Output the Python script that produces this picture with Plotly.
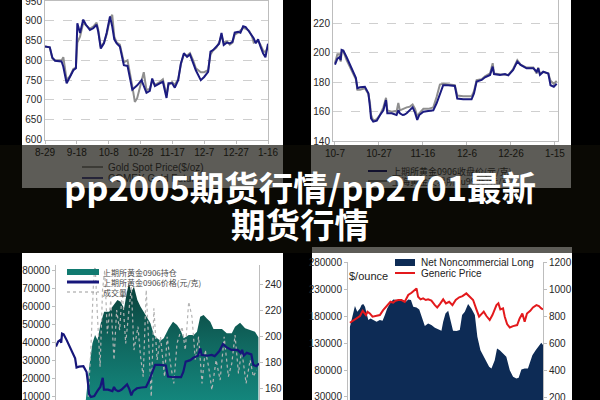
import plotly.graph_objects as go

# ---------------- data ----------------
# Top-left: gold spot (navy) vs comparison (gray), days since 8-29
tl_days = [0,3,4.6,6.3,10.4,11.5,13.6,15.7,17.8,19.4,20.3,22,24,25.7,28.2,30.3,32.4,33.4,35,37,38.7,40.8,42.2,43.5,45,47,49.5,51.8,53.3,54.8,57.9,60.6,63.7,65.8,67.3,69,72,74,76.3,77.5,79.8,81.5,83.6,85.3,87.2,89.2,91,93,94.7,97.8,99.9,102.4,103.9,105.5,107.6,109.3,110.8,112.2,114.3,116,117.7,119.1,121.2,122.7,124.4,126,128.1,130,131,132.3,133.8,135.2,136.9,138.4,140]
tl_navy = [835,833,807,799,797,784,742,758,775,780,894,869,903,890,877,881,890,873,830,843,869,911,886,853,843,835,788,786,758,726,737,750,718,723,754,735,742,746,705,742,742,731,750,792,818,809,815,792,775,750,758,771,822,826,835,842,869,839,845,843,847,870,872,870,886,884,873,862,856,843,853,836,818,808,842]
tl_gray_days = [0,3,4.6,6.3,10.4,11.5,13.6,15.7,17.8,19.4,20.3,22,24,25.7,28.2,30.3,32.4,33.4,35,37,38.7,40.8,42.2,43.5,45,47,49.5,51.8,53.3,54.8,56.4,57.9,60.6,62,63.7,65.8,67.3,69,72,74,76.3,77.5,79.8,81.5,83.6,85.3,87.2,89.2,91,93,94.7,97.8,99.9,102.4,103.9,105.5,107.6,109.3,110.8,112.2,114.3,116,117.7,119.1,121.2,122.7,124.4,126,128.1,130,131,132.3,133.8,135.2,136.9,138.4,140]
tl_gray = [835,833,805,800,800,808,750,760,778,782,845,860,895,888,880,885,895,878,835,845,865,905,915,860,845,840,795,800,770,735,695,705,748,770,725,728,748,738,745,752,712,738,745,738,752,790,815,812,818,800,780,770,770,775,815,825,832,845,862,845,848,840,845,865,870,875,882,880,875,860,845,848,848,840,825,820,835]
tl_tick_days = [0,20,40,60,80,100,120,140]
tl_tick_labels = ['8-29','9-18','10-8','10-28','11-17','12-7','12-27','1-16']
tl_y_ticks = [600,650,700,750,800,850,900,950]

# Top-right: SHFE gold 0906 (navy) vs spot (gray), days since 10-7
tr_days = [0,1.1,2,2.6,3.0,3.8,5.3,6.8,8.3,9.5,10.2,11.4,13.6,15.2,15.9,16.4,17.4,19,20.5,22,23.2,23.8,25.8,27.3,28,28.8,29.5,30.8,31.4,32.6,34.1,35.3,36.4,37.4,38.3,40.2,42.4,44.7,46.2,47.7,49.2,51.5,54.5,55.6,58.3,62.1,63.2,64.4,66.7,68.2,70.5,71.7,72.3,75,77.3,78.8,81,82.9,84.4,87.1,90.2,91.7,92.4,93.2,94.7,97,98,99.5,100.8]
tr_navy = [192,196,197,195,202,201.5,197,192,187,183,176,176.6,177,172.5,163.5,155.6,153.3,154,157.8,161,168,159,159,158.5,157.8,161,159,157.8,158,159,161,163,159.4,154.5,157.8,160,160.6,161,165.8,171.4,178,178,177.5,169,168.5,168.5,172.5,180.5,181.6,183.4,185,190.6,185.6,185,185.6,184.7,188.4,194,191.8,189.5,189.5,187.2,189.5,185,187.2,186,178,177,179]
tr_gray = [193,199,199,194,200,201,195,190,186,182,175,175,176,172,166,158,154,155,158,163,169.5,161,160,160.5,160,166,161,162,162,163,163.5,165,162,157,159,162,162,163,170,178.5,179,178.5,178,171,170.5,170.5,174,181.5,182,184,186,193,186,185.5,185.5,185,189,195,192,190,190,186,190,186,187,186,181,179,181]
tr_tick_days = [0,20,40,60,80,100]
tr_tick_labels = ['10-7','10-27','11-16','12-6','12-26','1-15']
tr_y_ticks = [140,160,180,200,220]

# Bottom-left: open interest (area), volume (dotted), price (navy, = tr_navy)
bl_oi_days = [14.8,16.5,18.1,19.4,20.6,22.2,23.9,26.4,28,30.5,32.1,33.8,35.1,36.2,37.4,38.7,40.4,42,44.5,46.9,48.6,50.2,51.9,53.5,56,58.1,60.1,61.8,63.4,65.9,68.4,70,71.6,73.3,74.9,76.6,78.2,82.4,84.8,87.3,88.9,91.4,93.9,96.3,98.8,100.5]
bl_oi = [8160,26700,39660,44270,41500,50780,57220,57220,60000,63700,62770,59070,67440,73000,68370,71150,63700,60000,55370,50780,44270,42420,41120,42420,48000,51700,49850,47070,42420,44270,44270,46130,54450,55370,53520,51670,47600,47600,45200,45200,48900,51100,48000,47070,46130,43000]
bl_vol_days = [16.0,17.3,18.6,19.4,20.6,21.9,23.1,24.2,25.5,27.2,28.8,30.1,31.6,32.9,34.6,36.2,37.4,38.7,40.7,42.0,43.3,44.8,46.1,47.3,48.6,50.2,51.9,53.9,55.2,56.8,58.5,60.1,62.6,64.2,65.9,67.5,69.2,70.8,72.5,74.1,75.8,77.4,79.5,81.5,83.5,85.6,87.3,88.9,90.6,92.2,94.4,96.4,98.0,99.6]
bl_vol = [10010,35940,72980,84090,54460,26680,69280,80390,45200,63720,30390,58160,47050,69280,39650,60020,71130,35940,48900,32240,21120,69280,39650,10010,59090,30390,43350,21120,43350,28530,17420,39650,48900,35940,62790,54460,30390,43350,17420,35940,26680,13720,30390,19270,43350,21120,28530,44270,22980,35940,17420,30390,21120,24830]
bl_left_ticks = [10000,20000,30000,40000,50000,60000,70000,80000]
bl_right_ticks = [160,180,200,220,240]
bl_legend = ['上期所黄金0906持仓', '上期所黄金0906价格(元/克)', '成交量']

# Bottom-right: net noncommercial long (area) and generic price (red)
br_long_idx = [0,1.4,2.6,3.8,5.2,6.0,6.9,7.8,8.6,9.5,10.7,12.1,13.8,15.5,16.9,18.1,19.3,20.7,22.4,24.5,25.9,27.6,29.0,30.2,31.6,32.8,34.5,35.9,37.1,38.8,40.5,42.2,44.0,45.7,47.4,48.3,49.5,50.9,52.1,53.4,55.2,56.9,58.1,59.5,61.2,62.9,64.7,66.0,67.6,69.3,70.7,72.1,73.3,75.0,76.2,77.6,79.3,81.0,82.8,84.5,86.2,87.4,88.8,90.5,92.2,93.1,94.5,96.2,97.9,99.1,100]
br_long = [160360,178940,198780,188240,194440,200630,202490,197530,185150,172750,175850,172750,169650,172750,171510,182050,194440,203730,211170,209930,208070,209930,206830,211170,209930,197530,196300,192580,178940,161600,166560,163460,158500,155410,152920,169650,185150,190100,172750,152920,152310,154170,182050,188240,202490,194440,182050,141770,116990,104600,95300,86010,82920,98410,120090,116990,110800,104600,79820,67420,64330,65560,81060,82920,82920,92210,107700,116990,126290,130620,126290]
br_price_idx = [0,1.7,3.4,5.2,6.6,7.4,8.3,9.1,10.3,11.7,13.4,15.5,17.2,18.6,20.0,21.0,22.4,23.6,25.0,26.7,28.4,30.2,31.9,33.6,34.5,35.3,36.6,37.9,39.3,40.5,42.2,44.0,45.2,46.6,48.3,49.7,51.4,53.1,54.8,56.6,58.3,60.3,62.1,63.8,65.5,66.9,68.1,69.3,70.7,72.4,73.8,75.9,76.9,77.9,79.3,80.2,81.4,82.8,84.5,86.6,87.9,89.3,90.5,91.7,93.4,94.8,96.6,97.9,99.1,100]
br_price = [751,766,783,801,840,825,808,833,820,796,801,808,845,870,895,907,900,915,920,920,907,957,974,999,1006,944,925,932,920,925,915,882,865,890,925,895,907,882,920,940,949,969,940,920,850,796,815,833,801,771,808,882,895,850,858,796,741,716,726,734,783,820,758,820,840,865,882,875,858,850]
br_left_ticks = [30000,80000,130000,180000,230000,280000]
br_right_ticks = [200,400,600,800,1000,1200]
br_legend = ['Net Noncommercial Long', 'Generic Price']

title_lines = ['pp2005期货行情/pp2701最新', '期货行情']

# ---------------- helpers (pixel -> paper) ----------------
W, H = 600, 400
def px(x):
    return x / W
def py(y):
    return 1 - y / H

NAVY = '#1b1b80'
GRAY = '#8f8f8f'
TICKFONT = dict(family='Liberation Sans, Arial', size=10, color='#262626')
AXLINE = '#bdbdbd'

fig = go.Figure()

# top-left
fig.add_trace(go.Scatter(x=tl_gray_days, y=tl_gray, mode='lines', line=dict(color=GRAY, width=2),
                         xaxis='x', yaxis='y', showlegend=False, hoverinfo='skip'))
fig.add_trace(go.Scatter(x=tl_days, y=tl_navy, mode='lines', line=dict(color=NAVY, width=2),
                         xaxis='x', yaxis='y', showlegend=False, hoverinfo='skip'))
# top-right
fig.add_trace(go.Scatter(x=tr_days, y=tr_gray, mode='lines', line=dict(color=GRAY, width=2),
                         xaxis='x2', yaxis='y2', showlegend=False, hoverinfo='skip'))
fig.add_trace(go.Scatter(x=tr_days, y=tr_navy, mode='lines', line=dict(color=NAVY, width=2),
                         xaxis='x2', yaxis='y2', showlegend=False, hoverinfo='skip'))
# bottom-left
fig.add_trace(go.Scatter(x=bl_oi_days, y=bl_oi, mode='lines', line=dict(width=0, color='#0f6e66'),
                         fill='tozeroy',
                         fillgradient=dict(type='vertical', start=5000, stop=75000,
                                           colorscale=[[0, '#14897f'], [0.5, '#10675f'], [1, '#0a3c36']]),
                         xaxis='x3', yaxis='y3', showlegend=False, hoverinfo='skip'))
fig.add_trace(go.Scatter(x=bl_vol_days, y=bl_vol, mode='lines',
                         line=dict(color='#b4b4b4', width=1.2, dash='dot'),
                         xaxis='x3', yaxis='y3', showlegend=False, hoverinfo='skip'))
fig.add_trace(go.Scatter(x=tr_days, y=tr_navy, mode='lines', line=dict(color='#16167a', width=2.2),
                         xaxis='x3', yaxis='y4', showlegend=False, hoverinfo='skip'))
# bottom-right
fig.add_trace(go.Scatter(x=br_long_idx, y=br_long, mode='lines', line=dict(width=0, color='#0d2b55'),
                         fill='tozeroy', fillcolor='#0d2b55',
                         xaxis='x4', yaxis='y5', showlegend=False, hoverinfo='skip'))
fig.add_trace(go.Scatter(x=br_price_idx, y=br_price, mode='lines', line=dict(color='#e3191c', width=2),
                         xaxis='x4', yaxis='y6', showlegend=False, hoverinfo='skip'))

common_top_x = dict(showline=True, linecolor=AXLINE, mirror=True, ticks='outside', ticklen=3,
                    tickcolor=AXLINE, showgrid=False, zeroline=False, tickfont=TICKFONT,
                    automargin=False, fixedrange=True, ticklabeloverflow='allow')
common_top_y = dict(showline=True, linecolor=AXLINE, mirror=True, ticks='', showgrid=True,
                    gridcolor='#cfcfcf', griddash='dash', zeroline=False, tickfont=TICKFONT,
                    tickformat='d', automargin=False, fixedrange=True, ticklabeloverflow='allow')
common_bot_y = dict(showline=True, linecolor=AXLINE, ticks='outside', ticklen=3, tickcolor=AXLINE,
                    showgrid=False, zeroline=False, tickfont=TICKFONT, tickformat='d',
                    automargin=False, fixedrange=True, ticklabeloverflow='allow')

fig.update_layout(
    width=W, height=H, margin=dict(l=0, r=0, t=0, b=0, pad=0, autoexpand=False),
    paper_bgcolor='#000000', plot_bgcolor='rgba(0,0,0,0)',
    font=dict(family='Liberation Sans, Arial'),
    hovermode=False,
    xaxis=dict(domain=[px(45), px(268)], range=[0, 140], anchor='y',
               tickvals=tl_tick_days, ticktext=tl_tick_labels, **common_top_x),
    yaxis=dict(domain=[py(139.5), py(1)], range=[600, 950], anchor='x',
               tickvals=tl_y_ticks, **common_top_y),
    xaxis2=dict(domain=[px(333), px(558)], range=[-0.9, 101.4], anchor='y2',
                tickvals=tr_tick_days, ticktext=tr_tick_labels, **common_top_x),
    yaxis2=dict(domain=[py(141.3), 1], range=[140, 235.8], anchor='x2',
                tickvals=tr_y_ticks, **common_top_y),
    xaxis3=dict(domain=[px(56), px(259)], range=[0, 100.8], anchor='y3', visible=False,
                automargin=False, fixedrange=True),
    yaxis3=dict(domain=[0, py(265)], range=[8170, 83200], anchor='x3', tickvals=bl_left_ticks,
                **common_bot_y),
    yaxis4=dict(range=[151, 254.7], anchor='x3', overlaying='y3', side='right', tickvals=bl_right_ticks,
                **common_bot_y),
    xaxis4=dict(domain=[px(348), px(543)], range=[-1, 100], anchor='y5', visible=False,
                automargin=False, fixedrange=True),
    yaxis5=dict(domain=[0, py(262.3)], range=[24420, 280000], anchor='x4', tickvals=br_left_ticks,
                **common_bot_y),
    yaxis6=dict(range=[177.7, 1200], anchor='x4', overlaying='y5', side='right', tickvals=br_right_ticks,
                **common_bot_y),
)

shapes = []
def rect(x0, y0, x1, y1, color, layer='below', line_w=0):
    shapes.append(dict(type='rect', xref='paper', yref='paper', x0=px(x0), x1=px(x1),
                       y0=py(y1), y1=py(y0), fillcolor=color, line=dict(width=line_w), layer=layer))
def hline(x0, x1, y, color, width, dash='solid', layer='below'):
    shapes.append(dict(type='line', xref='paper', yref='paper', x0=px(x0), x1=px(x1),
                       y0=py(y), y1=py(y), line=dict(color=color, width=width, dash=dash), layer=layer))

# panel backgrounds
rect(22, 0, 283, 188, '#ffffff')
rect(311, 0, 571, 188, '#ffffff')
rect(22, 253, 283, 400, '#ffffff')
rect(312, 247, 572, 400, '#ffffff')
# legend samples of top charts (hidden under banner)
hline(82, 103, 167, '#777777', 1.5)
hline(82, 103, 178, NAVY, 1.5)
hline(368, 387, 171, NAVY, 2)
hline(368, 387, 181, GRAY, 2)
# bottom-left legend samples
rect(67, 269, 99, 275, '#117a70', layer='above')
hline(67, 99, 282, '#16167a', 3, layer='above')
hline(67, 99, 292, '#9a9a9a', 1.2, dash='dot', layer='above')
# bottom-right legend samples
rect(395, 259, 415, 266, '#0d2b55', layer='above')
hline(395, 415, 273, '#e3191c', 2, layer='above')
# dark banner
rect(0, 145, 600, 253, 'rgba(15,13,6,0.675)', layer='above')

annotations = []
def text(x, y, s, size, color, family='Liberation Sans, Arial', xanchor='left', weight=None):
    f = dict(family=family, size=size, color=color)
    if weight:
        f['weight'] = weight
    annotations.append(dict(xref='paper', yref='paper', x=px(x), y=py(y), text=s, showarrow=False,
                            xanchor=xanchor, yanchor='middle', font=f))

DIM = '#1c1b17'
text(106, 167, 'Gold Spot Price($/oz)', 10, DIM)
text(106, 178, 'COMEX Gold Futures', 10, DIM)
text(390, 171, '上期所黄金0906收盘价(元/克)', 9, DIM, family='Noto Sans CJK SC')
text(390, 181, '上海黄金交易所Au9995(元/克)', 9, DIM, family='Noto Sans CJK SC')

for i, s in enumerate(bl_legend):
    text(101, 272 + 10 * i, s, 8, '#4a4a4a', family='Noto Sans CJK SC')
for i, s in enumerate(br_legend):
    text(419, 262 + 11 * i, s, 10, '#222222')
text(347, 276, '$/ounce', 11, '#222222')

text(300, 186, title_lines[0], 34.5, '#ffffff', family='Noto Sans CJK SC', xanchor='center', weight=700)
text(300, 223, title_lines[1], 34.5, '#ffffff', family='Noto Sans CJK SC', xanchor='center', weight=700)

fig.update_layout(shapes=shapes, annotations=annotations)
fig.write_html('out.html', config={'displayModeBar': False, 'responsive': False},
               post_script="document.body.style.margin='0';document.body.style.background='#000';")
